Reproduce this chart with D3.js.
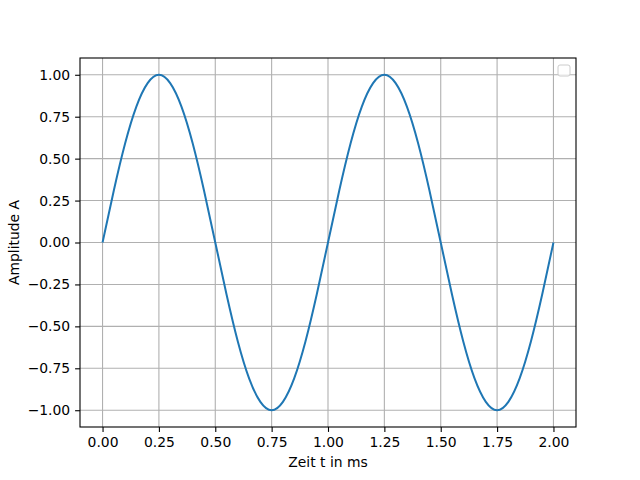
<!DOCTYPE html>
<html>
<head>
<meta charset="utf-8">
<script src="https://cdn.jsdelivr.net/npm/d3@7"></script>
<style>
  body { margin: 0; background: #fff; }
  text { font-family: "DejaVu Sans", sans-serif; }
</style>
</head>
<body>
<svg id="chart" width="640" height="480"></svg>
<script>
// time in ms, read every 0.05 ms off the curve
var zeit = [0.00, 0.05, 0.10, 0.15, 0.20, 0.25, 0.30, 0.35, 0.40, 0.45,
            0.50, 0.55, 0.60, 0.65, 0.70, 0.75, 0.80, 0.85, 0.90, 0.95,
            1.00, 1.05, 1.10, 1.15, 1.20, 1.25, 1.30, 1.35, 1.40, 1.45,
            1.50, 1.55, 1.60, 1.65, 1.70, 1.75, 1.80, 1.85, 1.90, 1.95, 2.00];
var amplitude = [0.00, 0.31, 0.59, 0.81, 0.95, 1.00, 0.95, 0.81, 0.59, 0.31,
                 0.00, -0.31, -0.59, -0.81, -0.95, -1.00, -0.95, -0.81, -0.59, -0.31,
                 0.00, 0.31, 0.59, 0.81, 0.95, 1.00, 0.95, 0.81, 0.59, 0.31,
                 0.00, -0.31, -0.59, -0.81, -0.95, -1.00, -0.95, -0.81, -0.59, -0.31, 0.00];
var xTicks = [0, 0.25, 0.5, 0.75, 1, 1.25, 1.5, 1.75, 2];
var yTicks = [-1, -0.75, -0.5, -0.25, 0, 0.25, 0.5, 0.75, 1];

var margin = {top: 58, right: 64, bottom: 53, left: 80},
    width = 640 - margin.left - margin.right,
    height = 480 - margin.top - margin.bottom;

var x = d3.scaleLinear().domain([-0.1, 2.1]).range([0, width]);
var y = d3.scaleLinear().domain([-1.1, 1.1]).range([height, 0]);

var svg = d3.select('#chart')
    .append("g")
    .attr("transform", "translate(" + margin.left + "," + margin.top + ")");

// grid
svg.append("g").selectAll("line")
    .data(xTicks).enter().append("line")
    .attr("x1", d => x(d)).attr("x2", d => x(d))
    .attr("y1", 0).attr("y2", height)
    .style("stroke", "#b0b0b0").style("stroke-width", 1.1);
svg.append("g").selectAll("line")
    .data(yTicks).enter().append("line")
    .attr("y1", d => y(d)).attr("y2", d => y(d))
    .attr("x1", 0).attr("x2", width)
    .style("stroke", "#b0b0b0").style("stroke-width", 1.1);

// sine line
var line = d3.line()
    .x((d, i) => x(zeit[i]))
    .y(d => y(d))
    .curve(d3.curveNatural);

svg.append("path")
    .datum(amplitude)
    .attr("d", line)
    .style("fill", "none")
    .style("stroke", "#1f77b4")
    .style("stroke-width", 2);

// axes
var xAxis = d3.axisBottom(x).tickValues(xTicks).tickSize(4.9).tickPadding(4.9).tickFormat(d3.format(".2f"));
var yAxis = d3.axisLeft(y).tickValues(yTicks).tickSize(4.9).tickPadding(4.9).tickFormat(d3.format(".2f"));

var gx = svg.append("g")
    .attr("transform", "translate(0," + height + ")")
    .call(xAxis);
var gy = svg.append("g").call(yAxis);

[gx, gy].forEach(g => {
    g.select(".domain").remove();
    g.selectAll("line").style("stroke", "#000").style("stroke-width", 1.1);
    g.selectAll("text").style("font-size", "13.9px").style("fill", "#000")
        .style("font-family", "DejaVu Sans, sans-serif");
});
gy.selectAll("text").text(d => d3.format(".2f")(d).replace("-", "\u2212"));

// frame
svg.append("rect")
    .attr("width", width).attr("height", height)
    .style("fill", "none").style("stroke", "#000").style("stroke-width", 1.1);

// empty legend box
svg.append("rect")
    .attr("x", width - 18).attr("y", 7)
    .attr("width", 12).attr("height", 11)
    .attr("rx", 2)
    .style("fill", "#fff").style("fill-opacity", 0.8)
    .style("stroke", "#cccccc").style("stroke-width", 1);

// labels
svg.append("text")
    .attr("x", width / 2)
    .attr("y", height + 40)
    .style("font-size", "13.9px")
    .style("text-anchor", "middle")
    .text("Zeit t in ms");

svg.append("text")
    .attr("transform", "rotate(-90)")
    .attr("x", -height / 2)
    .attr("y", -61)
    .style("font-size", "13.9px")
    .style("text-anchor", "middle")
    .text("Amplitude A");
</script>
</body>
</html>
